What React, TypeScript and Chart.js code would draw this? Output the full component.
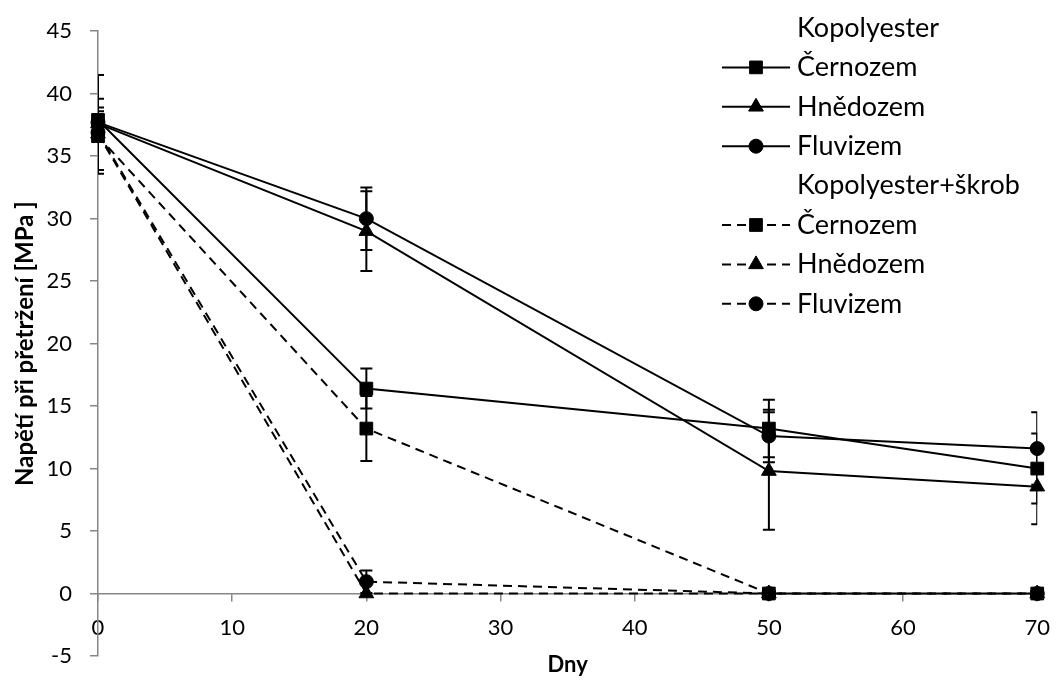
import React, { useEffect, useRef } from "react";
import { Chart, registerables } from "chart.js";

Chart.register(...registerables);

// ---- data ----
const days = [0, 20, 50, 70];
const yTicksMin = -5;
const yTicksMax = 45;
const xTicksMin = 0;
const xTicksMax = 70;

const kopCernozem = [37.9, 16.4, 13.2, 10.0];
const kopHnedozem = [37.6, 29.0, 9.8, 8.55];
const kopFluvizem = [37.7, 30.0, 12.6, 11.6];
const skrCernozem = [36.6, 13.2, 0, 0];
const skrHnedozem = [36.8, 0, 0, 0];
const skrFluvizem = [36.9, 0.95, 0, 0];

const errKopCernozem = [1.0, 1.6, 2.3, 2.8];
const errKopHnedozem = [1.0, 3.2, 4.7, 3.0];
const errKopFluvizem = [3.8, 2.5, 2.1, 2.9];
const errSkrCernozem = [3.0, 2.6, 0, 0];
const errSkrHnedozem = [0.5, 0, 0, 0];
const errSkrFluvizem = [0.5, 0.9, 0, 0];

const groupLabels = ["Kopolyester", "Kopolyester+škrob"];
const soilLabels = ["Černozem", "Hnědozem", "Fluvizem"];
const xTitle = "Dny";
const yTitle = "Napětí při přetržení [MPa ]";

const GRAY = "#868686";
const FONT = "Lato, 'Open Sans', sans-serif";
const DASH = [9, 6];

type Marker = "rect" | "triangle" | "circle";
const markers: Marker[] = ["rect", "triangle", "circle"];
const radii: Record<Marker, number> = { rect: 9, triangle: 8.5, circle: 7 };

const seriesValues = [kopCernozem, kopHnedozem, kopFluvizem, skrCernozem, skrHnedozem, skrFluvizem];
const seriesErrors = [errKopCernozem, errKopHnedozem, errKopFluvizem, errSkrCernozem, errSkrHnedozem, errSkrFluvizem];

function drawMarker(ctx: CanvasRenderingContext2D, m: Marker, x: number, y: number) {
  const r = radii[m];
  ctx.beginPath();
  if (m === "rect") {
    const s = Math.SQRT1_2 * r;
    ctx.rect(x - s, y - s, 2 * s, 2 * s);
  } else if (m === "circle") {
    ctx.arc(x, y, r, 0, Math.PI * 2);
  } else {
    const a = -Math.PI / 2;
    for (let k = 0; k < 3; k++) {
      const ang = a + (k * 2 * Math.PI) / 3;
      const px = x + Math.cos(ang) * r;
      const py = y + Math.sin(ang) * r;
      if (k === 0) ctx.moveTo(px, py);
      else ctx.lineTo(px, py);
    }
    ctx.closePath();
  }
  ctx.fillStyle = "#000";
  ctx.fill();
  ctx.lineWidth = 1;
  ctx.strokeStyle = "#000";
  ctx.stroke();
}

const errorBarPlugin = {
  id: "errorBars",
  beforeDatasetsDraw(chart: any) {
    const ctx: CanvasRenderingContext2D = chart.ctx;
    const ys = chart.scales.y;
    const area = chart.chartArea;
    ctx.save();
    ctx.beginPath();
    ctx.rect(area.left, area.top, area.right - area.left, area.bottom - area.top);
    ctx.clip();
    ctx.strokeStyle = "#000";
    ctx.lineWidth = 2;
    ctx.setLineDash([]);
    chart.data.datasets.forEach((ds: any, i: number) => {
      const meta = chart.getDatasetMeta(i);
      const errs: number[] = ds.errors || [];
      meta.data.forEach((pt: any, j: number) => {
        const e = errs[j];
        if (!e) return;
        const v = seriesValues[i][j];
        const yTop = ys.getPixelForValue(v + e);
        const yBot = ys.getPixelForValue(v - e);
        const x = pt.x;
        ctx.beginPath();
        ctx.moveTo(x, yTop);
        ctx.lineTo(x, yBot);
        ctx.moveTo(x - 6, yTop);
        ctx.lineTo(x + 6, yTop);
        ctx.moveTo(x - 6, yBot);
        ctx.lineTo(x + 6, yBot);
        ctx.stroke();
      });
    });
    ctx.restore();
  },
};

const legendPlugin = {
  id: "customLegend",
  afterDraw(chart: any) {
    const ctx: CanvasRenderingContext2D = chart.ctx;
    ctx.save();
    ctx.font = `27px ${FONT}`;
    ctx.textBaseline = "middle";
    ctx.textAlign = "left";
    const x0 = 722;
    const x1 = 790;
    const xm = 756;
    const tx = 797;
    let row = 0;
    const rowY = (r: number) => 28 + r * 39.4;
    for (let g = 0; g < 2; g++) {
      ctx.fillStyle = "#000";
      ctx.fillText(groupLabels[g], tx, rowY(row));
      row++;
      for (let s = 0; s < 3; s++) {
        const y = rowY(row);
        ctx.beginPath();
        ctx.setLineDash(g === 1 ? DASH : []);
        ctx.lineWidth = 2;
        ctx.strokeStyle = "#000";
        ctx.moveTo(x0, y);
        ctx.lineTo(x1, y);
        ctx.stroke();
        ctx.setLineDash([]);
        drawMarker(ctx, markers[s], xm, y);
        ctx.fillStyle = "#000";
        ctx.fillText(soilLabels[s], tx, y);
        row++;
      }
    }
    ctx.restore();
  },
};

const titlesPlugin = {
  id: "axisTitles",
  afterDraw(chart: any) {
    const ctx: CanvasRenderingContext2D = chart.ctx;
    const area = chart.chartArea;
    ctx.save();
    ctx.fillStyle = "#000";
    ctx.textAlign = "center";
    ctx.textBaseline = "middle";
    ctx.font = `bold 22px ${FONT}`;
    ctx.fillText(xTitle, (area.left + area.right) / 2, 665);
    ctx.font = `bold 24px ${FONT}`;
    ctx.translate(25, (area.top + area.bottom) / 2);
    ctx.rotate(-Math.PI / 2);
    ctx.fillText(yTitle, 0, 0);
    ctx.restore();
  },
};

export default function App() {
  const ref = useRef<HTMLCanvasElement | null>(null);
  useEffect(() => {
    if (!ref.current) return;
    const datasets = seriesValues.map((vals, i) => {
      const m = markers[i % 3];
      return {
        label: (i < 3 ? groupLabels[0] : groupLabels[1]) + " " + soilLabels[i % 3],
        data: days.map((d, j) => ({ x: d, y: vals[j] })),
        errors: seriesErrors[i],
        borderColor: "#000",
        backgroundColor: "#000",
        borderWidth: 2,
        borderDash: i >= 3 ? DASH : [],
        pointStyle: m,
        pointRadius: radii[m],
        pointHoverRadius: radii[m],
        pointBackgroundColor: "#000",
        pointBorderColor: "#000",
        pointBorderWidth: 1,
        tension: 0,
        fill: false,
        clip: false as any,
      };
    });
    const chart = new Chart(ref.current, {
      type: "line",
      data: { datasets: datasets as any },
      plugins: [errorBarPlugin, legendPlugin, titlesPlugin],
      options: {
        animation: false,
        responsive: false,
        devicePixelRatio: 1,
        layout: { padding: { left: 0, top: 31, right: 16, bottom: 35 } },
        plugins: { legend: { display: false }, tooltip: { enabled: false } },
        scales: {
          x: {
            type: "linear",
            position: { y: 0 } as any,
            min: xTicksMin,
            max: xTicksMax,
            ticks: { stepSize: 10, color: "#000", font: { family: FONT, size: 22 }, padding: 14, maxRotation: 0 },
            grid: { drawOnChartArea: false, drawTicks: true, tickLength: 7, color: GRAY, lineWidth: 1.5 },
            border: { display: true, color: GRAY, width: 1.5 },
            title: { display: false },
            afterFit: (s: any) => {
              s.height = 0;
            },
          },
          y: {
            type: "linear",
            position: "left",
            min: yTicksMin,
            max: yTicksMax,
            ticks: { stepSize: 5, color: "#000", font: { family: FONT, size: 22 }, padding: 18 },
            grid: { drawOnChartArea: false, drawTicks: true, tickLength: 8, color: GRAY, lineWidth: 1.5 },
            border: { display: true, color: GRAY, width: 1.5 },
            title: { display: false },
            afterFit: (s: any) => {
              s.width = 98;
            },
          },
        },
      },
    });
    return () => chart.destroy();
  }, []);
  return (
    <div style={{ position: "absolute", left: 0, top: 0, width: 1064, height: 691, background: "#fff" }}>
      <canvas ref={ref} width={1064} height={691} style={{ width: 1064, height: 691 }} />
    </div>
  );
}
